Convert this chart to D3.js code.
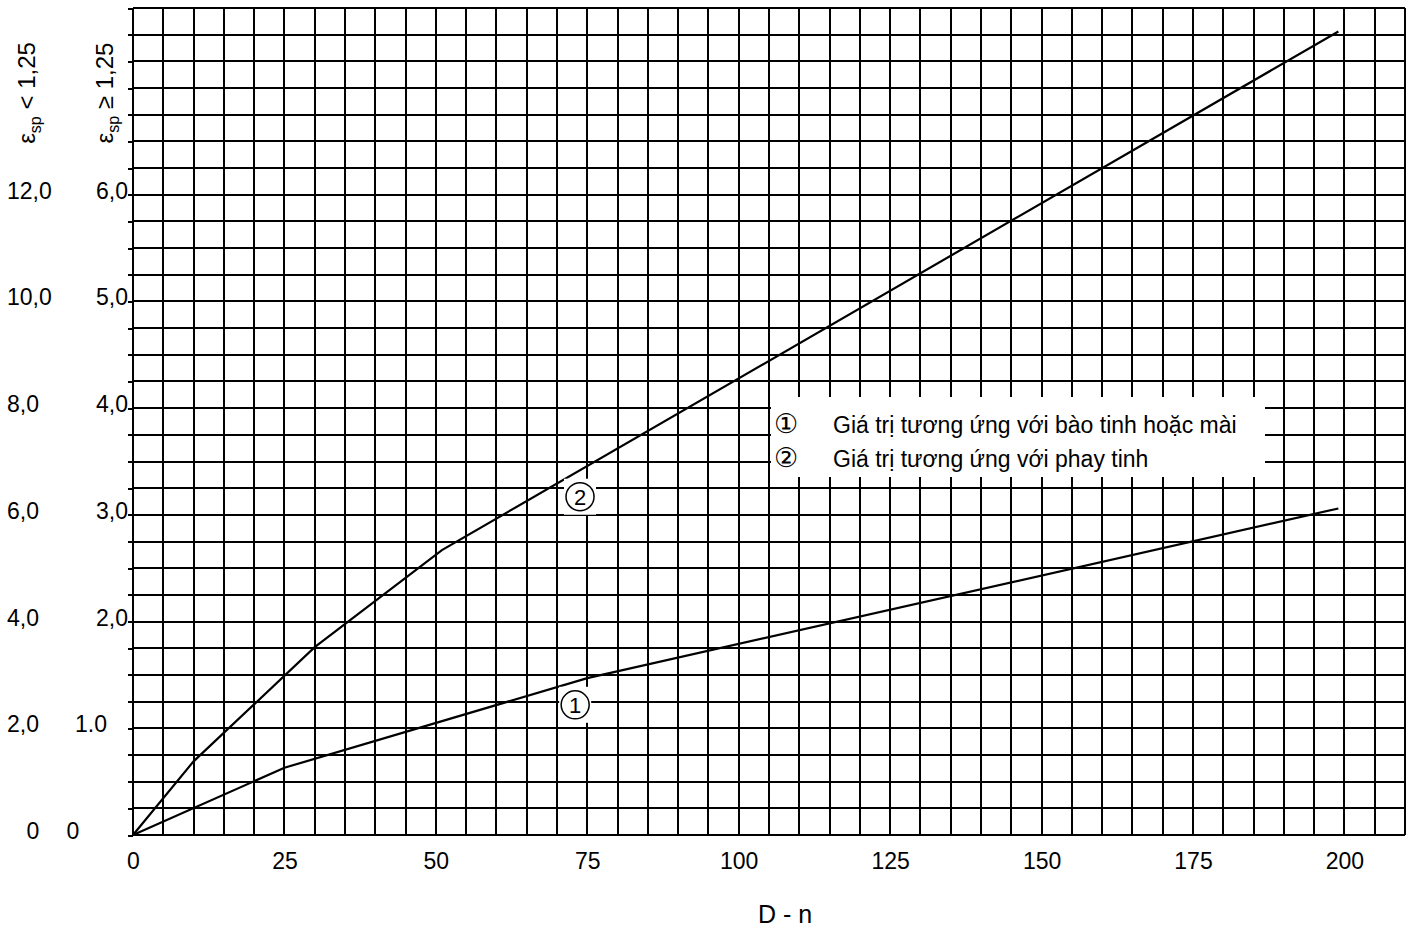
<!DOCTYPE html>
<html>
<head>
<meta charset="utf-8">
<script src="https://cdn.jsdelivr.net/npm/d3@7/dist/d3.min.js"></script>
<style>
  html, body { margin: 0; padding: 0; background: #fff; }
  svg { display: block; }
  text { font-family: "Liberation Sans", Arial, Helvetica, sans-serif; fill: #000; }
</style>
</head>
<body>
<svg id="chart" width="1413" height="932"></svg>
<script>
// D - n on the horizontal axis
const xTicks = [0, 25, 50, 75, 100, 125, 150, 175, 200];
// epsilon_sp scale for εsp ≥ 1,25 (inner column) and εsp < 1,25 (outer column)
const yTicksInner = [0, 1, 2, 3, 4, 5, 6];
const yLabelsInner = ["0", "1.0", "2,0", "3,0", "4,0", "5,0", "6,0"];
const yLabelsOuter = ["0", "2,0", "4,0", "6,0", "8,0", "10,0", "12,0"];

// Curve 1: bào tinh hoặc mài
const curve1X = [0, 25, 75, 199];
const curve1Y = [0, 0.63, 1.47, 3.06];
// Curve 2: phay tinh
const curve2X = [0, 10, 30, 51, 199];
const curve2Y = [0, 0.69, 1.76, 2.67, 7.53];

// Circled curve markers placed next to each curve
const markerText = ["1", "2"];
const markerX = [73, 73.8];
const markerY = [1.22, 3.17];

const legendSymbols = ["\u2460", "\u2461"];
const legendTexts = ["Giá trị tương ứng với bào tinh hoặc mài", "Giá trị tương ứng với phay tinh"];

const xMax = 210, yMax = 7.75, xStep = 5, yStep = 0.25;

const svg = d3.select("#chart");
const plotLeft = 133, plotRight = 1405, plotTop = 8, plotBottom = 835;

const x = d3.scaleLinear().domain([0, xMax]).range([plotLeft, plotRight]);
const y = d3.scaleLinear().domain([0, yMax]).range([plotBottom, plotTop]);

const black = "#000";
const gridW = 2;

// Grid
const grid = svg.append("g").attr("shape-rendering", "crispEdges");
grid.selectAll("line.v")
  .data(d3.range(0, xMax + 0.001, xStep))
  .join("line")
  .attr("class", "v")
  .attr("x1", d => x(d)).attr("x2", d => x(d))
  .attr("y1", plotTop).attr("y2", plotBottom)
  .attr("stroke", black).attr("stroke-width", gridW);
grid.selectAll("line.h")
  .data(d3.range(0, yMax + 0.001, yStep))
  .join("line")
  .attr("class", "h")
  .attr("x1", plotLeft).attr("x2", plotRight)
  .attr("y1", d => y(d)).attr("y2", d => y(d))
  .attr("stroke", black).attr("stroke-width", gridW);

// Small outward ticks on the left edge
const yAxis = d3.axisLeft(y)
  .tickValues(d3.range(0, yMax + 0.001, yStep))
  .tickSize(5)
  .tickFormat("");
const ya = svg.append("g")
  .attr("transform", `translate(${plotLeft},0)`)
  .attr("shape-rendering", "crispEdges")
  .call(yAxis);
ya.select(".domain").remove();
ya.selectAll(".tick line").attr("stroke", black).attr("stroke-width", gridW);

// Bottom axis labels
const xAxis = d3.axisBottom(x).tickValues(xTicks).tickSize(0).tickPadding(18).tickFormat(d3.format("d"));
const xa = svg.append("g").attr("transform", `translate(0,${plotBottom})`).call(xAxis);
xa.select(".domain").remove();
xa.selectAll(".tick text")
  .attr("font-size", 23)
  .attr("dy", 0)
  .attr("y", 34)
  .attr("font-family", "'Liberation Sans', Arial, sans-serif")
  .attr("fill", black);

// Two columns of vertical-axis labels
const yl = svg.append("g").attr("font-size", 23);
yl.selectAll("text.outer")
  .data(yTicksInner)
  .join("text")
  .attr("class", "outer")
  .attr("x", (d, i) => i === 0 ? 33 : 7)
  .attr("text-anchor", (d, i) => i === 0 ? "middle" : "start")
  .attr("y", d => y(d) + 4)
  .text((d, i) => yLabelsOuter[i]);
yl.selectAll("text.inner")
  .data(yTicksInner)
  .join("text")
  .attr("class", "inner")
  .attr("x", (d, i) => i === 0 ? 73 : (i === 1 ? 91 : 128))
  .attr("text-anchor", (d, i) => i === 0 || i === 1 ? "middle" : "end")
  .attr("y", d => y(d) + 4)
  .text((d, i) => yLabelsInner[i]);

// Rotated axis headings
function heading(cx, cy, op) {
  const t = svg.append("text")
    .attr("transform", `translate(${cx},${cy}) rotate(-90)`)
    .attr("text-anchor", "middle")
    .attr("font-size", 24);
  t.append("tspan").text("ε");
  t.append("tspan").attr("font-size", 16).attr("dy", 6).text("sp");
  t.append("tspan").attr("dy", -6).text(` ${op} 1,25`);
}
heading(35, 93, "<");
heading(113, 93, "≥");

// Curves
const line = d3.line().x(d => x(d[0])).y(d => y(d[1]));
const curves = [d3.zip(curve1X, curve1Y), d3.zip(curve2X, curve2Y)];
svg.append("g").selectAll("path")
  .data(curves)
  .join("path")
  .attr("d", line)
  .attr("fill", "none")
  .attr("stroke", black)
  .attr("stroke-width", 2.2)
  .attr("stroke-linejoin", "miter");

// Circled markers
const mk = svg.append("g").selectAll("g")
  .data(markerText)
  .join("g")
  .attr("transform", (d, i) => `translate(${x(markerX[i])},${y(markerY[i])})`);
mk.append("rect")
  .attr("x", -16).attr("y", -18).attr("width", 32).attr("height", 36)
  .attr("fill", "#fff");
mk.append("circle")
  .attr("r", 14)
  .attr("fill", "#fff")
  .attr("stroke", black)
  .attr("stroke-width", 1.5);
mk.append("text")
  .attr("text-anchor", "middle")
  .attr("dy", 8)
  .attr("font-size", 22)
  .text(d => d);

// Legend
const lg = svg.append("g");
lg.append("rect")
  .attr("x", x(105) + 2).attr("y", 397)
  .attr("width", 1265 - x(105) - 2).attr("height", 80)
  .attr("fill", "#fff");
const rows = lg.selectAll("g.row")
  .data(legendTexts)
  .join("g")
  .attr("class", "row")
  .attr("transform", (d, i) => `translate(0,${433 + i * 34})`);
rows.append("text")
  .attr("x", 774)
  .attr("font-size", 27)
  .text((d, i) => legendSymbols[i]);
rows.append("text")
  .attr("x", 833)
  .attr("font-size", 23)
  .text(d => d);

// Horizontal axis title
svg.append("text")
  .attr("x", 785).attr("y", 923)
  .attr("text-anchor", "middle")
  .attr("font-size", 25)
  .text("D - n");
</script>
</body>
</html>
